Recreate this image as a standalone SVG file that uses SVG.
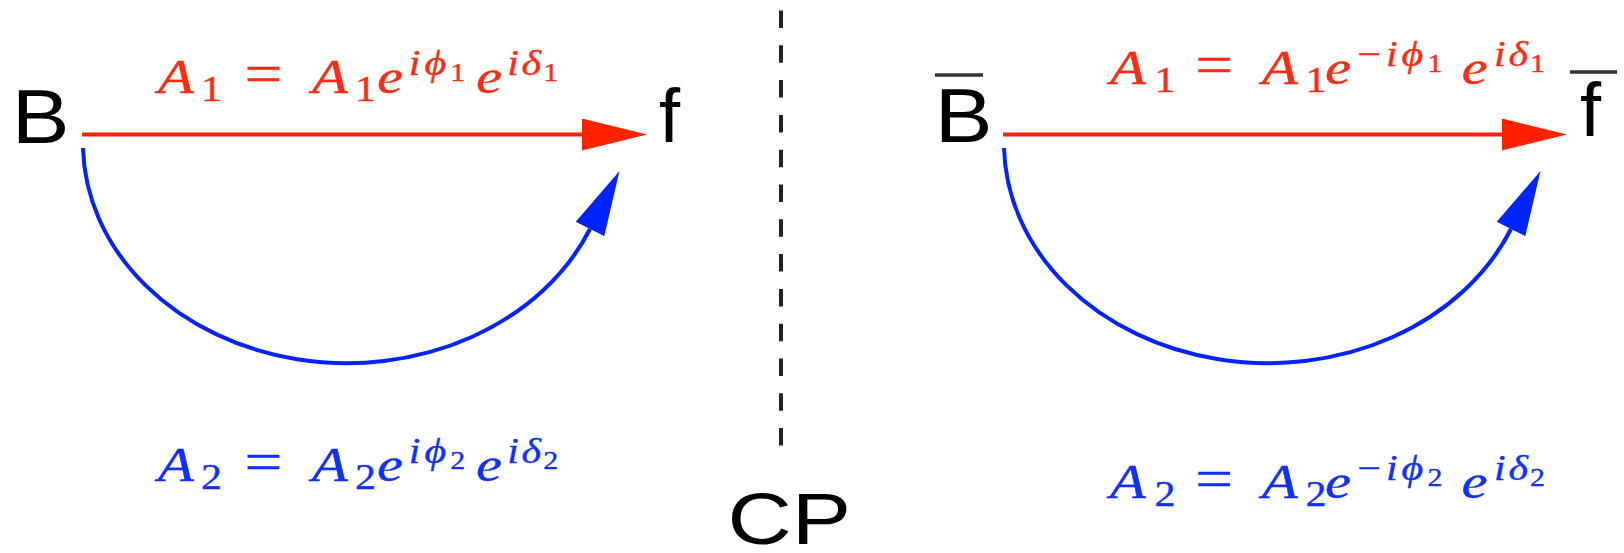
<svg xmlns="http://www.w3.org/2000/svg" width="1624" height="553" viewBox="0 0 1624 553">
  <style>
    .lbl { font-family: "Liberation Sans", Arial, sans-serif; fill: #000; }
    .math { font-family: "Liberation Serif", "DejaVu Serif", serif; font-size: 49px; stroke-width: 0.35; }
    .it { font-style: italic; }
    .rm { font-style: normal; }
    .s1 { font-size: 35px; }
    .s2 { font-size: 25px; }
    .red { fill: #ff2a12; stroke: #ff2a12; }
    .blue { fill: #1030ff; stroke: #1030ff; }
    .bar { stroke: #333; stroke-width: 3.5; }
  </style>
  <defs>
    <marker id="ahR" markerUnits="userSpaceOnUse" markerWidth="65" markerHeight="32" viewBox="0 0 65 32" refX="0" refY="16" orient="auto">
      <path d="M0,0 L65,16 L0,32 z" fill="#ff2200"/>
    </marker>
    <marker id="ahB" markerUnits="userSpaceOnUse" markerWidth="65" markerHeight="32" viewBox="0 0 65 32" refX="0" refY="16" orient="auto">
      <path d="M0,0 L65,16 L0,32 z" fill="#0024ff"/>
    </marker>
  </defs>

  <rect width="1624" height="553" fill="#fff"/>

  <!-- connectors -->
  <g id="connectors" fill="none">
    <line x1="82" y1="134.5" x2="582" y2="134.5" stroke="#ff2200" stroke-width="4" marker-end="url(#ahR)"/>
    <path d="M83,148 A264,220 0 0,0 590,229" stroke="#0024ff" stroke-width="4" marker-end="url(#ahB)"/>
    <line x1="1003" y1="134.5" x2="1502" y2="134.5" stroke="#ff2200" stroke-width="4" marker-end="url(#ahR)"/>
    <path d="M1004,148 A264,220 0 0,0 1511,229" stroke="#0024ff" stroke-width="4" marker-end="url(#ahB)"/>
    <line id="cp-divider" x1="781" y1="10.5" x2="781" y2="448" stroke="#222" stroke-width="4" stroke-dasharray="17.5 17.3"/>
  </g>

  <!-- nodes -->
  <g id="node-B">
    <text class="lbl" x="11.7" y="143" font-size="76" textLength="57.8" lengthAdjust="spacingAndGlyphs">B</text>
  </g>
  <g id="node-f">
    <text class="lbl" x="659" y="142" font-size="76">f</text>
  </g>
  <g id="node-Bbar">
    <line class="bar" x1="935" y1="75" x2="983" y2="75"/>
    <text class="lbl" x="934.7" y="142" font-size="76" textLength="57.8" lengthAdjust="spacingAndGlyphs">B</text>
  </g>
  <g id="node-fbar">
    <line class="bar" x1="1570" y1="72" x2="1617" y2="72"/>
    <text class="lbl" x="1580" y="136" font-size="76">f</text>
  </g>
  <g id="label-CP">
    <text class="lbl" x="727.5" y="544" font-size="72" textLength="123.7" lengthAdjust="spacingAndGlyphs">CP</text>
  </g>

  <!-- amplitude labels -->
  <g id="label-A1-left" transform="translate(158,93) scale(1.2,1)">
    <text class="math red">
      <tspan class="it" x="0" y="0">A</tspan><tspan class="rm s1" x="35.8" y="8">1</tspan><tspan class="rm" x="72" y="0" font-size="56">=</tspan><tspan class="it" x="128.3" y="0">A</tspan><tspan class="rm s1" x="164.2" y="8">1</tspan><tspan class="it" x="182.5" y="0">e</tspan><tspan class="it s1" x="209" y="-18">i</tspan><tspan class="it s1" x="222" y="-18">ϕ</tspan><tspan class="rm s2" x="243.5" y="-12">1</tspan><tspan class="it" x="265" y="0">e</tspan><tspan class="it s1" x="291" y="-18">i</tspan><tspan class="it s1" x="303" y="-18">δ</tspan><tspan class="rm s2" x="321" y="-12">1</tspan>
    </text>
  </g>
  <g id="label-A2-left" transform="translate(158,481) scale(1.2,1)">
    <text class="math blue">
      <tspan class="it" x="0" y="0">A</tspan><tspan class="rm s1" x="35.8" y="8">2</tspan><tspan class="rm" x="72" y="0" font-size="56">=</tspan><tspan class="it" x="128.3" y="0">A</tspan><tspan class="rm s1" x="164.2" y="8">2</tspan><tspan class="it" x="182.5" y="0">e</tspan><tspan class="it s1" x="209" y="-18">i</tspan><tspan class="it s1" x="222" y="-18">ϕ</tspan><tspan class="rm s2" x="243.5" y="-12">2</tspan><tspan class="it" x="265" y="0">e</tspan><tspan class="it s1" x="291" y="-18">i</tspan><tspan class="it s1" x="303" y="-18">δ</tspan><tspan class="rm s2" x="321" y="-12">2</tspan>
    </text>
  </g>
  <g id="label-A1-right" transform="translate(1110,84) scale(1.2,1)">
    <text class="math red">
      <tspan class="it" x="0" y="0">A</tspan><tspan class="rm s1" x="37" y="8">1</tspan><tspan class="rm" x="71" y="0" font-size="56">=</tspan><tspan class="it" x="126.7" y="0">A</tspan><tspan class="rm s1" x="163" y="8">1</tspan><tspan class="it" x="179.2" y="0">e</tspan><tspan class="rm s1" x="206" y="-18">−</tspan><tspan class="it s1" x="230" y="-18">i</tspan><tspan class="it s1" x="243" y="-18">ϕ</tspan><tspan class="rm s2" x="264.5" y="-12">1</tspan><tspan class="it" x="293" y="0">e</tspan><tspan class="it s1" x="320" y="-18">i</tspan><tspan class="it s1" x="332" y="-18">δ</tspan><tspan class="rm s2" x="350" y="-12">1</tspan>
    </text>
  </g>
  <g id="label-A2-right" transform="translate(1110,498) scale(1.2,1)">
    <text class="math blue">
      <tspan class="it" x="0" y="0">A</tspan><tspan class="rm s1" x="37" y="8">2</tspan><tspan class="rm" x="71" y="0" font-size="56">=</tspan><tspan class="it" x="126.7" y="0">A</tspan><tspan class="rm s1" x="163" y="8">2</tspan><tspan class="it" x="179.2" y="0">e</tspan><tspan class="rm s1" x="206" y="-18">−</tspan><tspan class="it s1" x="230" y="-18">i</tspan><tspan class="it s1" x="243" y="-18">ϕ</tspan><tspan class="rm s2" x="264.5" y="-12">2</tspan><tspan class="it" x="293" y="0">e</tspan><tspan class="it s1" x="320" y="-18">i</tspan><tspan class="it s1" x="332" y="-18">δ</tspan><tspan class="rm s2" x="350" y="-12">2</tspan>
    </text>
  </g>
</svg>
